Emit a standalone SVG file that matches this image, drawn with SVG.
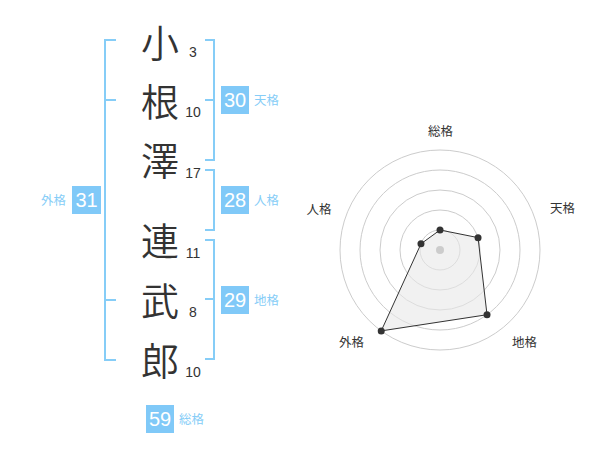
<svg xmlns="http://www.w3.org/2000/svg" width="600" height="470" viewBox="0 0 600 470">
<style>
.kanji{font-family:"Noto Sans CJK JP","Noto Sans CJK SC",sans-serif;font-size:38px;font-weight:350;fill:#333;text-anchor:middle}
.strokes{font-family:"Liberation Sans",Arial,sans-serif;font-size:14px;fill:#333;text-anchor:middle}
.br{fill:none;stroke:#86cdf7;stroke-width:2}
.box{fill:#80c9f8}
.boxnum{font-family:"Liberation Sans",Arial,sans-serif;font-size:20px;fill:#fff;text-anchor:middle}
.lbl{font-family:"Noto Sans CJK JP","Noto Sans CJK SC",sans-serif;font-size:12.5px;fill:#86cdf7}
.ring{fill:none;stroke:#cccccc;stroke-width:1}
.rlbl{font-family:"Noto Sans CJK JP","Noto Sans CJK SC",sans-serif;font-size:12.5px;fill:#333;text-anchor:middle}
.dot{fill:#333}
</style>
<rect width="600" height="470" fill="#fff"/>
<g id="name">
<g id="c1"><text class="kanji" x="160" y="57">小</text><text class="strokes" x="193" y="57">3</text></g>
<g id="c2"><text class="kanji" x="160" y="116">根</text><text class="strokes" x="193" y="117">10</text></g>
<g id="c3"><text class="kanji" x="160" y="175">澤</text><text class="strokes" x="193" y="178">17</text></g>
<g id="c4"><text class="kanji" x="160" y="255">連</text><text class="strokes" x="193" y="258">11</text></g>
<g id="c5"><text class="kanji" x="160" y="315">武</text><text class="strokes" x="193" y="317">8</text></g>
<g id="c6"><text class="kanji" x="160" y="375">郎</text><text class="strokes" x="193" y="377">10</text></g>
</g>
<g id="connectors">
<path class="br" d="M116,40 H105 V360 H116 M105,100 H116 M105,300 H116"/>
<path class="br" d="M205,40 H214 V160 H205 M205,100 H214"/>
<path class="br" d="M205,170 H214 V230 H205"/>
<path class="br" d="M205,240 H214 V359 H205 M205,299 H214"/>
</g>
<g id="tenkaku"><rect class="box" x="221" y="86" width="28" height="28"/><text class="boxnum" x="235" y="107">30</text><text class="lbl" x="254" y="105">天格</text></g>
<g id="jinkaku"><rect class="box" x="221" y="186" width="28" height="28"/><text class="boxnum" x="235" y="207">28</text><text class="lbl" x="254" y="205">人格</text></g>
<g id="chikaku"><rect class="box" x="221" y="286" width="28" height="28"/><text class="boxnum" x="235" y="307">29</text><text class="lbl" x="254" y="305">地格</text></g>
<g id="gaikaku"><rect class="box" x="72" y="186" width="29" height="28"/><text class="boxnum" x="86.5" y="207">31</text><text class="lbl" x="41" y="205">外格</text></g>
<g id="soukaku"><rect class="box" x="146" y="405" width="28" height="28"/><text class="boxnum" x="160" y="426">59</text><text class="lbl" x="179" y="424">総格</text></g>
<g id="radar">
<circle class="ring" cx="440" cy="250" r="20"/>
<circle class="ring" cx="440" cy="250" r="40"/>
<circle class="ring" cx="440" cy="250" r="60"/>
<circle class="ring" cx="440" cy="250" r="80"/>
<circle class="ring" cx="440" cy="250" r="100"/>
<polygon points="440,230 478.04,237.64 487.02,314.72 381.22,330.9 420.98,243.82" fill="#e8e8e8" fill-opacity="0.6" stroke="#333" stroke-width="1"/>
<circle cx="440" cy="250" r="4" fill="#cccccc"/>
<circle class="dot" cx="440" cy="230" r="3.5"/>
<circle class="dot" cx="478.04" cy="237.64" r="3.5"/>
<circle class="dot" cx="487.02" cy="314.72" r="3.5"/>
<circle class="dot" cx="381.22" cy="330.9" r="3.5"/>
<circle class="dot" cx="420.98" cy="243.82" r="3.5"/>
<text class="rlbl" x="440.5" y="135.5">総格</text>
<text class="rlbl" x="562.5" y="213">天格</text>
<text class="rlbl" x="319" y="213.5">人格</text>
<text class="rlbl" x="351.5" y="347">外格</text>
<text class="rlbl" x="524.5" y="347">地格</text>
</g>
</svg>
